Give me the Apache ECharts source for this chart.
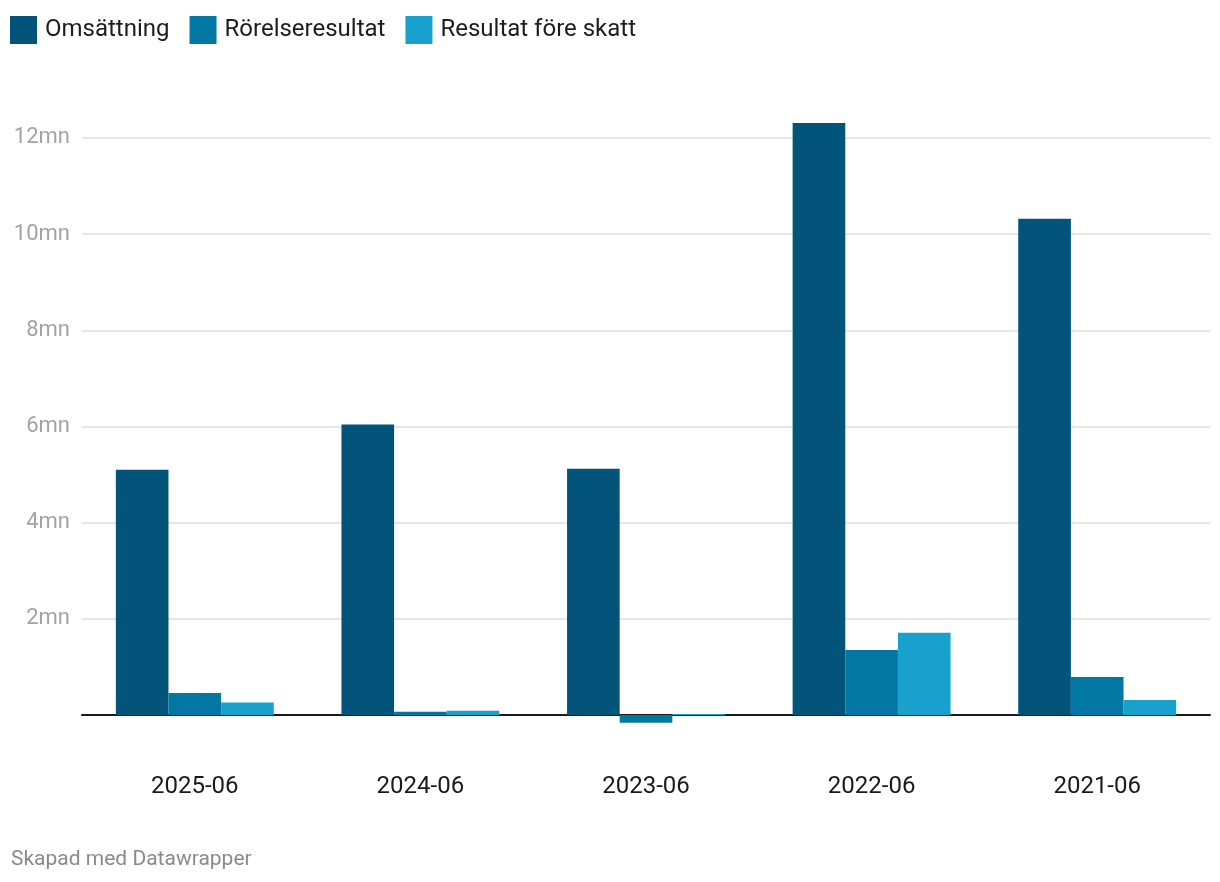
<!DOCTYPE html>
<html>
<head>
<meta charset="utf-8">
<script src="https://cdn.jsdelivr.net/npm/echarts@6/dist/echarts.min.js"></script>
<style>
html,body{margin:0;padding:0;background:#fff;}
#chart{width:1220px;height:882px;}
</style>
</head>
<body>
<div id="chart"></div>
<script>
const categories = ['2025-06', '2024-06', '2023-06', '2022-06', '2021-06'];
const seriesNames = ['Omsättning', 'Rörelseresultat', 'Resultat före skatt'];
const omsattning = [5.10, 6.04, 5.12, 12.31, 10.32];
const rorelseresultat = [0.46, 0.07, -0.16, 1.35, 0.79];
const resultatForeSkatt = [0.26, 0.09, 0.02, 1.71, 0.31];
const yTicks = [2, 4, 6, 8, 10, 12];
const colors = ['#02547b', '#0377a3', '#19a1cd'];

const chart = echarts.init(document.getElementById('chart'));
const dataSets = [omsattning, rorelseresultat, resultatForeSkatt];
chart.setOption({
  animation: false,
  textStyle: { fontFamily: 'Roboto' },
  legend: {
    left: 5, top: 11,
    itemWidth: 27, itemHeight: 28, itemGap: 20,
    icon: 'rect',
    textStyle: { fontSize: 24, color: '#1d1d1d', fontFamily: 'Roboto', padding: [0, 0, 0, 3] },
    data: seriesNames
  },
  graphic: [{
    type: 'text', left: 11, top: 849,
    style: { text: 'Skapad med Datawrapper', fontSize: 21, fill: '#8a8a8a', fontFamily: 'Roboto' }
  }],
  grid: { left: 82, right: 10, top: 41.8, bottom: 70.8, containLabel: false, outerBoundsMode: 'none' },
  xAxis: {
    type: 'category',
    data: categories,
    axisLine: { show: true, onZero: true, lineStyle: { color: '#1a1a1a', width: 2 } },
    axisTick: { show: false },
    axisLabel: { margin: -36, fontSize: 24, color: '#1a1a1a', fontFamily: 'Roboto' }
  },
  yAxis: {
    type: 'value',
    min: -2, max: 14, interval: 2,
    axisLine: { show: false },
    axisTick: { show: false },
    splitLine: { show: true, showMinLine: false, showMaxLine: false, lineStyle: { color: '#e6e6e6', width: 2 } },
    axisLabel: {
      margin: 12, fontSize: 22, color: '#a3a3a3', fontFamily: 'Roboto',
      formatter: v => yTicks.indexOf(v) >= 0 ? v + 'mn' : ''
    }
  },
  series: dataSets.map((d, i) => ({
    name: seriesNames[i],
    type: 'bar',
    data: d,
    barGap: '0%',
    barCategoryGap: '30%',
    itemStyle: { color: colors[i] }
  }))
});
</script>
</body>
</html>
